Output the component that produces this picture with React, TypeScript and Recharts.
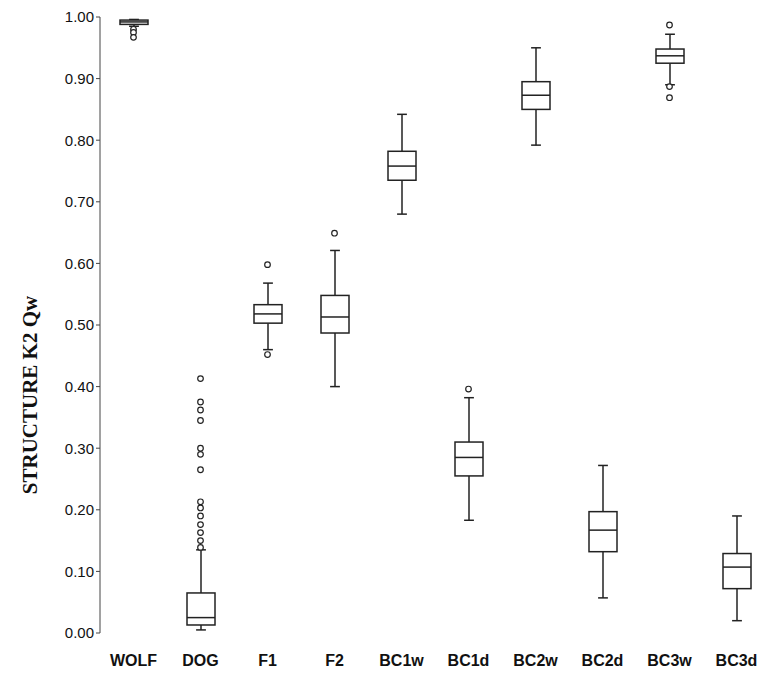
import React from 'react';
import { Bar, ComposedChart, Scatter, XAxis, YAxis, Label } from 'recharts';

const groups = ['WOLF', 'DOG', 'F1', 'F2', 'BC1w', 'BC1d', 'BC2w', 'BC2d', 'BC3w', 'BC3d'];
const mins = [0.985, 0.005, 0.46, 0.4, 0.68, 0.183, 0.792, 0.057, 0.89, 0.02];
const q1s = [0.988, 0.013, 0.503, 0.487, 0.735, 0.255, 0.85, 0.132, 0.925, 0.072];
const medians = [0.992, 0.025, 0.518, 0.513, 0.758, 0.285, 0.873, 0.167, 0.937, 0.107];
const q3s = [0.995, 0.065, 0.533, 0.548, 0.782, 0.31, 0.895, 0.197, 0.948, 0.129];
const maxs = [0.996, 0.135, 0.568, 0.621, 0.842, 0.382, 0.95, 0.272, 0.972, 0.19];
const outliers: [string, number][] = [
  ['WOLF', 0.98], ['WOLF', 0.975], ['WOLF', 0.967],
  ['DOG', 0.413], ['DOG', 0.375], ['DOG', 0.362], ['DOG', 0.345], ['DOG', 0.3], ['DOG', 0.29],
  ['DOG', 0.265], ['DOG', 0.213], ['DOG', 0.203], ['DOG', 0.19], ['DOG', 0.176], ['DOG', 0.163],
  ['DOG', 0.15], ['DOG', 0.139],
  ['F1', 0.598], ['F1', 0.452],
  ['F2', 0.649],
  ['BC1d', 0.396],
  ['BC3w', 0.987], ['BC3w', 0.887], ['BC3w', 0.869],
];
const yTicks = [0, 0.1, 0.2, 0.3, 0.4, 0.5, 0.6, 0.7, 0.8, 0.9, 1.0];

const data = groups.map((g, i) => ({
  name: g,
  base: q1s[i],
  box: q3s[i] - q1s[i],
  min: mins[i],
  q1: q1s[i],
  med: medians[i],
  q3: q3s[i],
  max: maxs[i],
}));
const outlierData = outliers.map(([name, v]) => ({ name, v }));

const BoxShape = (props: any) => {
  const { x, y, width, height, payload } = props;
  const k = height / (payload.q3 - payload.q1);
  const yOf = (v: number) => y + height - (v - payload.q1) * k;
  const cx = x + width / 2;
  const cap = width * 0.35;
  return (
    <g stroke="#222" strokeWidth={1.5} fill="none">
      <line x1={cx} x2={cx} y1={y} y2={yOf(payload.max)} />
      <line x1={cx} x2={cx} y1={y + height} y2={yOf(payload.min)} />
      <line x1={cx - cap / 2} x2={cx + cap / 2} y1={yOf(payload.max)} y2={yOf(payload.max)} />
      <line x1={cx - cap / 2} x2={cx + cap / 2} y1={yOf(payload.min)} y2={yOf(payload.min)} />
      <rect x={x} y={y} width={width} height={Math.max(height, 1)} fill="#fff" />
      <line x1={x} x2={x + width} y1={yOf(payload.med)} y2={yOf(payload.med)} />
    </g>
  );
};

const Dot = (props: any) => (
  <circle cx={props.cx} cy={props.cy} r={2.8} fill="#fff" stroke="#222" strokeWidth={1.2} />
);

const YTitle = () => (
  <text
    x={30}
    y={395}
    transform="rotate(-90 30 395)"
    textAnchor="middle"
    dominantBaseline="central"
    style={{ fontFamily: 'Liberation Serif, Times New Roman', fontWeight: 'bold', fontSize: 21, fill: '#111' }}
  >
    STRUCTURE K2 Qw
  </text>
);

export default function App() {
  return (
    <div style={{ margin: -8, background: '#fff' }}>
      <ComposedChart width={773} height={679} data={data} margin={{ top: 17, right: 3, left: 40, bottom: 16 }}>
        <XAxis
          dataKey="name"
          type="category"
          allowDuplicatedCategory={false}
          axisLine={false}
          tickLine={false}
          height={30}
          tick={{ fontSize: 16, fontWeight: 'bold', fill: '#111', fontFamily: 'Liberation Sans, Arial', dy: 14 }}
        />
        <YAxis
          domain={[0, 1]}
          ticks={yTicks}
          tickFormatter={(v) => v.toFixed(2)}
          width={60}
          stroke="#444"
          tickSize={4}
          tick={{ fontSize: 15, fill: '#111', fontFamily: 'Liberation Sans, Arial' }}
        >
          <Label content={YTitle} />
        </YAxis>
        <Bar dataKey="base" stackId="b" fill="transparent" barSize={28} isAnimationActive={false} />
        <Bar dataKey="box" stackId="b" shape={BoxShape} barSize={28} isAnimationActive={false} />
        <Scatter data={outlierData} dataKey="v" shape={Dot} isAnimationActive={false} />
      </ComposedChart>
    </div>
  );
}
